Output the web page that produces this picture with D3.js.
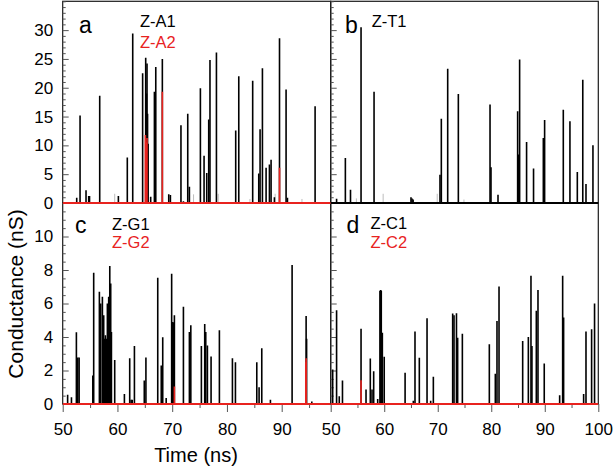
<!DOCTYPE html>
<html><head><meta charset="utf-8">
<script src="https://cdn.jsdelivr.net/npm/d3@7"></script>
<style>html,body{margin:0;padding:0;background:#fff}svg{display:block}</style>
</head><body>
<svg id="chart" width="614" height="473"></svg>
<script>
// ---------- data ----------
const xTicksLeft = [50, 60, 70, 80, 90];
const xTicksRight = [50, 60, 70, 80, 90, 100];
const yTicksTop = [0, 5, 10, 15, 20, 25, 30];
const yTicksBottom = [0, 2, 4, 6, 8, 10];

// [time (ns), conductance (nS)]
const seriesA1 = [[52.56,0.9],[53.17,15.2],[54.26,2.2],[54.75,1.2],[54.9,1.2],[56.76,18.6],[60.17,1.2],[61.8,7.9],[62.79,29.4],[64.6,22.5],[65.16,25.2],[65.3,19.0],[65.4,24.2],[65.5,15.5],[65.6,10.3],[66.07,1.1],[66.75,19.3],[67.0,23.6],[68.2,25.0],[69.37,1.5],[69.67,1.4],[71.6,13.5],[72.05,0.3],[72.84,15.5],[73.14,2.8],[75.15,19.9],[75.82,8.2],[76.31,5.2],[76.67,14.5],[76.9,24.8],[78.08,26.1],[81.6,12.6],[82.16,22.0],[84.7,21.2],[85.81,5.1],[86.05,12.8],[86.48,23.4],[87.15,6.1],[87.76,6.7],[88.06,7.5],[88.67,1.0],[89.6,28.6],[90.8,19.7],[91.05,0.9],[96.1,16.8]];
const seriesA2 = [[65.1,11.8],[65.25,10.5],[65.4,11.3],[68.2,19.3],[89.6,6.1]];
const faintA = [[59.5,1.6],[73.9,1.5],[78.4,1.6],[84.2,0.7],[88.8,1.6],[93.7,0.7]];

const seriesT1 = [[51.1,0.75],[52.74,7.8],[53.7,2.3],[55.67,30.5],[58.1,19.3],[65.0,1.0],[65.2,0.8],[65.4,0.6],[70.42,4.9],[70.67,14.6],[71.86,23.3],[73.85,18.9],[79.77,17.1],[79.95,6.2],[81.26,1.45],[84.93,15.9],[85.12,8.4],[85.3,24.9],[86.6,10.6],[87.9,6.0],[89.73,11.3],[89.97,14.4],[93.46,16.2],[94.7,14.2],[96.08,5.4],[97.1,21.4],[97.7,3.3],[99.0,10.0]];
const faintT = [[54.8,0.8],[59.8,1.6],[69.9,1.6],[74.9,0.6]];

const seriesG1 = [[50.9,0.55],[51.6,0.4],[52.5,4.28],[52.75,2.77],[53.0,2.77],[55.5,1.7],[55.66,7.84],[56.7,6.7],[56.94,6.0],[57.25,6.4],[57.49,5.3],[57.65,3.9],[57.8,4.1],[57.95,3.9],[58.16,6.0],[58.4,6.4],[58.6,8.24],[58.77,7.2],[58.9,4.3],[59.5,2.63],[61.27,0.6],[62.24,2.73],[62.5,0.25],[62.7,0.25],[63.1,3.47],[64.9,1.4],[65.2,2.77],[67.36,7.54],[68.0,2.3],[68.27,3.98],[68.9,0.36],[69.9,7.78],[70.1,4.9],[70.25,4.87],[70.4,5.3],[72.05,5.8],[73.14,4.3],[73.4,4.7],[75.33,3.47],[75.94,4.77],[76.13,4.3],[76.43,3.5],[77.1,2.83],[78.62,4.4],[81.0,2.73],[81.55,2.5],[85.45,2.5],[85.87,1.0],[86.36,3.33],[87.94,0.25],[91.9,8.3],[94.46,5.25],[94.55,3.9],[95.5,0.15]];
const seriesG2 = [[70.4,1.05],[94.4,2.5],[94.46,2.73]];

const seriesC1 = [[50.37,2.06],[51.1,5.6],[51.6,0.46],[52.2,1.4],[55.67,4.5],[56.6,0.86],[57.4,2.72],[57.72,0.86],[58.03,1.96],[58.78,0.3],[59.2,6.76],[59.34,6.8],[59.45,6.76],[59.65,4.26],[60.0,2.82],[63.9,1.86],[65.44,0.2],[65.75,4.33],[66.56,2.76],[68.0,5.12],[68.68,0.2],[69.18,1.62],[72.79,5.4],[73.04,5.3],[73.5,5.42],[73.72,3.96],[74.6,4.2],[79.64,3.56],[80.76,1.8],[81.07,4.96],[81.45,7.02],[85.87,3.76],[86.93,4.0],[87.42,7.66],[87.6,3.46],[88.42,5.56],[88.73,6.8],[89.9,2.42],[92.78,0.52],[93.34,7.66],[93.52,5.16],[97.26,0.6],[97.7,4.33],[98.75,4.46],[99.3,6.0]];
const seriesC2 = [[55.67,1.42]];

// ---------- layout ----------
const RED = "#e8231f";
const svg = d3.select("#chart");
const FONT = "Liberation Sans, Arial, Helvetica, sans-serif";

const cols = [
  {x0: 62.7, x1: 336.45, right: 330.7, ticks: xTicksLeft},
  {x0: 330.7, x1: 598.3, right: 598.3, ticks: xTicksRight}
];
const rows = [
  {top: 1.3, bottom: 203, domain: [0, 35], major: yTicksTop, minorStep: 1},
  {top: 203, bottom: 404, domain: [0, 12], major: yTicksBottom, minorStep: 0.5}
];

const panels = [
  {c: 0, r: 0, letter: "a", lx: 79, ly: 33, black: seriesA1, red: seriesA2, faint: faintA, names: ["Z-A1", "Z-A2"], nx: 140, ny: [26.7, 48.3]},
  {c: 1, r: 0, letter: "b", lx: 345, ly: 33, black: seriesT1, red: null, faint: faintT, names: ["Z-T1"], nx: 371.7, ny: [26.7]},
  {c: 0, r: 1, letter: "c", lx: 75, ly: 233, black: seriesG1, red: seriesG2, faint: [], names: ["Z-G1", "Z-G2"], nx: 112, ny: [230, 247.5]},
  {c: 1, r: 1, letter: "d", lx: 346.5, ly: 233, black: seriesC1, red: seriesC2, faint: [], names: ["Z-C1", "Z-C2"], nx: 370.5, ny: [228.5, 247.5]}
];

const defs = svg.append("defs");
const frameLayer = svg.append("g");
const axisLayer = svg.append("g");
const plotLayer = svg.append("g");
const textLayer = svg.append("g");

panels.forEach((p, i) => {
  const col = cols[p.c], row = rows[p.r];
  const x = d3.scaleLinear().domain([50, 100]).range([col.x0, col.x1]);
  const y = d3.scaleLinear().domain(row.domain).range([row.bottom, row.top]);
  const left = col.x0, right = col.right;

  defs.append("clipPath").attr("id", "clip" + i)
    .append("rect").attr("x", left).attr("y", row.top - 1)
    .attr("width", right - left).attr("height", row.bottom - row.top + 2);

  // frame
  frameLayer.append("rect").attr("x", left).attr("y", row.top)
    .attr("width", right - left).attr("height", row.bottom - row.top)
    .attr("fill", "none").attr("stroke", "#1a1a1a").attr("stroke-width", 1.2);

  const plot = plotLayer.append("g").attr("clip-path", `url(#clip${i})`);

  // faint thin spikes
  plot.selectAll(".f").data(p.faint).join("line")
    .attr("x1", d => x(d[0])).attr("x2", d => x(d[0]))
    .attr("y1", y(0)).attr("y2", d => y(d[1]))
    .attr("stroke", "#bdbdbd").attr("stroke-width", 1);

  // black spikes
  plot.selectAll(".b").data(p.black).join("line")
    .attr("x1", d => x(d[0])).attr("x2", d => x(d[0]))
    .attr("y1", y(0)).attr("y2", d => y(d[1]))
    .attr("stroke", "#000").attr("stroke-width", 1.6);

  // red series + baseline
  if (p.red) {
    plot.selectAll(".r").data(p.red).join("line")
      .attr("x1", d => x(d[0])).attr("x2", d => x(d[0]))
      .attr("y1", y(0)).attr("y2", d => y(d[1]))
      .attr("stroke", RED).attr("stroke-width", 1.6);
    plot.append("line")
      .attr("x1", left).attr("x2", right)
      .attr("y1", y(0)).attr("y2", y(0))
      .attr("stroke", RED).attr("stroke-width", 1.8);
  } else {
    plot.append("line")
      .attr("x1", left).attr("x2", right)
      .attr("y1", y(0)).attr("y2", y(0))
      .attr("stroke", "#000").attr("stroke-width", 1.8);
  }

  // y axis: inward ticks
  const minor = d3.range(row.domain[0], row.domain[1] + 1e-9, row.minorStep)
    .filter(v => !row.major.includes(v));
  const yMinor = d3.axisLeft(y).tickValues(minor).tickSizeInner(-3).tickSizeOuter(0).tickFormat("");
  const yMajor = d3.axisLeft(y).tickValues(row.major).tickSizeInner(-6).tickSizeOuter(0).tickPadding(9.5);
  if (p.c === 1) yMajor.tickFormat("");
  const ga1 = axisLayer.append("g").attr("transform", `translate(${left},0)`).call(yMinor);
  const ga2 = axisLayer.append("g").attr("transform", `translate(${left},0)`).call(yMajor);
  [ga1, ga2].forEach(a => {
    a.select(".domain").remove();
    a.selectAll("line").attr("stroke", "#555").attr("stroke-width", 1);
    a.selectAll("text").attr("font-family", FONT).attr("font-size", 17).attr("fill", "#000");
  });

  // x axis on bottom row: outward ticks
  if (p.r === 1) {
    const xMinor = d3.range(55, 100, 10);
    const xa = d3.axisBottom(x).tickValues(col.ticks).tickSizeInner(8).tickSizeOuter(0).tickPadding(11).tickFormat(d3.format("d"));
    const xm = d3.axisBottom(x).tickValues(xMinor.filter(v => x(v) <= right)).tickSizeInner(4).tickSizeOuter(0).tickFormat("");
    const gx1 = axisLayer.append("g").attr("transform", `translate(0,${row.bottom})`).call(xm);
    const gx2 = axisLayer.append("g").attr("transform", `translate(0,${row.bottom})`).call(xa);
    [gx1, gx2].forEach(a => {
      a.select(".domain").remove();
      a.selectAll("line").attr("stroke", "#555").attr("stroke-width", 1);
      a.selectAll("text").attr("font-family", FONT).attr("font-size", 17).attr("fill", "#000");
    });
  }

  // panel letter + series names
  textLayer.append("text").attr("x", p.lx).attr("y", p.ly).text(p.letter)
    .attr("font-family", FONT).attr("font-size", 23).attr("fill", "#000");
  p.names.forEach((n, k) => {
    textLayer.append("text").attr("x", p.nx).attr("y", p.ny[k]).text(n)
      .attr("font-family", FONT).attr("font-size", 16.5)
      .attr("fill", k === 0 ? "#000" : RED);
  });
});

// axis titles
textLayer.append("text").attr("transform", "translate(23,294) rotate(-90)")
  .attr("text-anchor", "middle").text("Conductance (nS)")
  .attr("font-family", FONT).attr("font-size", 21).attr("fill", "#000");
textLayer.append("text").attr("x", 196).attr("y", 462)
  .attr("text-anchor", "middle").text("Time (ns)")
  .attr("font-family", FONT).attr("font-size", 20).attr("fill", "#000");
</script>
</body></html>
